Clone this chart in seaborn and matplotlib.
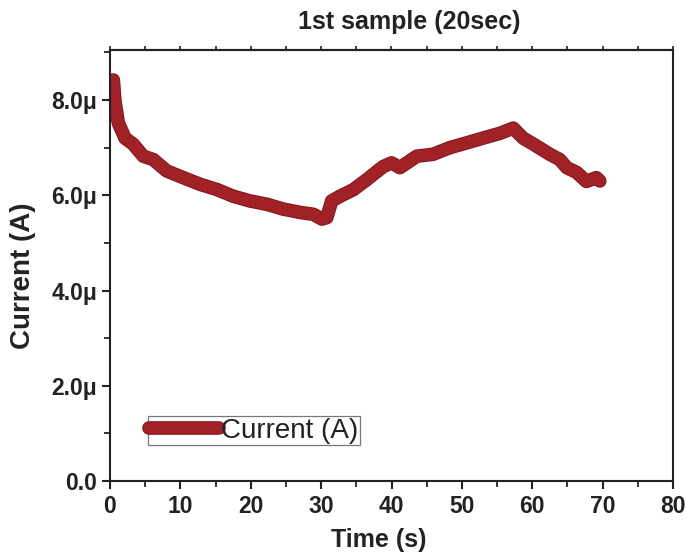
import matplotlib
matplotlib.use("Agg")
import matplotlib.pyplot as plt
import matplotlib.patheffects as pe
from matplotlib.ticker import MultipleLocator, FixedLocator, FixedFormatter
import seaborn as sns
import pandas as pd

# Measured current transient
time_s = [0.47, 0.71, 1.18, 2.13, 3.31, 4.73, 6.15, 8.06, 10.4, 12.8, 15.2,
          17.5, 19.9, 22.3, 24.6, 27.0, 28.9, 30.1, 30.8, 31.5, 32.7, 34.6,
          36.5, 38.8, 40.0, 41.2, 43.6, 45.9, 48.3, 50.7, 53.0, 55.4, 57.3,
          58.7, 60.2, 62.5, 63.9, 64.9, 66.3, 67.7, 69.1, 69.6]
current_uA = [8.42, 7.97, 7.52, 7.20, 7.07, 6.82, 6.75, 6.51, 6.37, 6.23, 6.12,
              5.98, 5.88, 5.81, 5.71, 5.64, 5.60, 5.50, 5.53, 5.88, 5.98, 6.12,
              6.33, 6.60, 6.68, 6.58, 6.82, 6.86, 7.00, 7.10, 7.20, 7.30, 7.41,
              7.20, 7.07, 6.86, 6.75, 6.58, 6.48, 6.29, 6.37, 6.30]

y_ticks = [0.0, 2.0e-6, 4.0e-6, 6.0e-6, 8.0e-6]
y_tick_labels = ["0.0", "2.0\u03bc", "4.0\u03bc", "6.0\u03bc", "8.0\u03bc"]
x_ticks = [0, 10, 20, 30, 40, 50, 60, 70, 80]
x_minor_ticks = list(range(0, 81, 5))

df = pd.DataFrame({"Time (s)": time_s,
                   "Current (A)": [v * 1e-6 for v in current_uA]})

sns.set_theme(style="white")
plt.rcParams["font.family"] = ["Liberation Sans", "DejaVu Sans"]

ink = "#222222"
fig = plt.figure(figsize=(6.86, 5.59), dpi=100)
ax = fig.add_axes([110 / 686, 1 - 481 / 559, 563 / 686, 431 / 559])

line_color = "#a02227"
sns.lineplot(data=df, x="Time (s)", y="Current (A)", ax=ax, color=line_color,
             linewidth=8.5, label="Current (A)", sort=False,
             solid_capstyle="round", solid_joinstyle="round")
for ln in ax.get_lines():
    ln.set_path_effects([pe.Stroke(linewidth=9.8, foreground="#7c1519"),
                         pe.Normal()])

ax.set_xlim(0, 80)
ax.set_ylim(0, 9.05e-6)
ax.xaxis.set_major_locator(FixedLocator(x_ticks))
ax.xaxis.set_minor_locator(MultipleLocator(5))
ax.yaxis.set_major_locator(FixedLocator(y_ticks))
ax.yaxis.set_major_formatter(FixedFormatter(y_tick_labels))
ax.yaxis.set_minor_locator(MultipleLocator(1e-6))

for sp in ax.spines.values():
    sp.set_visible(True)
    sp.set_color(ink)
    sp.set_linewidth(1.5)

ax.tick_params(axis="both", which="major", direction="out", length=6,
               width=1.5, color=ink, labelsize=16.5, labelcolor=ink)
ax.tick_params(axis="both", which="minor", direction="out", length=4,
               width=1.3, color=ink)
ax.tick_params(axis="x", which="both", top=False, bottom=True)
ax.tick_params(axis="y", which="both", left=True, right=False)
ax.tick_params(axis="x", which="major", pad=4)
ax.tick_params(axis="y", which="major", pad=3)
for lab in ax.get_xticklabels() + ax.get_yticklabels():
    lab.set_fontweight("bold")

# short ticks along the top frame
top = ax.secondary_xaxis("top")
top.set_xticks(x_minor_ticks)
top.tick_params(direction="out", length=3, width=1.2, color=ink,
                labeltop=False)
top.spines["top"].set_linewidth(1.5)
top.spines["top"].set_color(ink)

ax.set_xlabel("Time (s)", fontsize=18, fontweight="bold", color=ink)
ax.set_ylabel("Current (A)", fontsize=20, fontweight="bold", color=ink)
ax.xaxis.set_label_coords(0.478, -0.108)
ax.yaxis.set_label_coords(-0.132, 0.476)

fig.text(409 / 686, 1 - 22 / 559, "1st sample (20sec)", ha="center",
         va="center", fontsize=18, fontweight="bold", color=ink)

leg = ax.legend(loc="lower left", bbox_to_anchor=(0.067, 0.083),
                fontsize=20, frameon=True, fancybox=False,
                handlelength=2.5, handletextpad=0.1, borderpad=0.05,
                borderaxespad=0)
leg.get_frame().set_edgecolor("#555555")
leg.get_frame().set_linewidth(0.9)
for t in leg.get_texts():
    t.set_color(ink)

fig.savefig("out.png", dpi=100)
